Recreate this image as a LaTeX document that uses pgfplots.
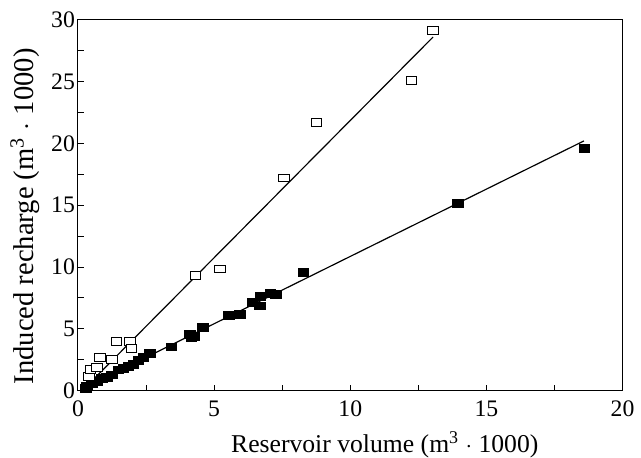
\documentclass[border=0pt]{standalone}
\usepackage{fontspec}
\setmainfont{Liberation Serif}
\usepackage{pgfplots}
\pgfplotsset{compat=1.18}

% filled squares
\pgfplotstableread{
x y
0.28 0.16
0.34 0.34
0.52 0.61
0.70 0.74
0.88 0.96
1.07 1.06
1.25 1.28
1.49 1.68
1.67 1.81
1.85 1.94
2.04 2.13
2.22 2.47
2.40 2.66
2.64 3.00
3.43 3.54
4.10 4.55
4.16 4.33
4.28 4.40
4.58 5.13
5.55 6.12
5.95 6.20
6.40 7.13
6.68 6.86
6.70 7.60
7.07 7.88
7.28 7.80
8.28 9.60
13.95 15.16
18.60 19.60
}\filled

% open squares
\pgfplotstableread{
x y
0.40 1.14
0.46 1.75
0.70 1.86
0.82 2.66
1.25 2.53
1.41 4.00
1.91 4.00
1.97 3.40
4.32 9.34
5.21 9.84
7.57 17.20
8.76 21.70
12.25 25.10
13.04 29.10
}\open

\begin{document}
\begin{tikzpicture}
\begin{axis}[
    scale only axis,
    width=276pt, height=188pt,
    xmin=0, xmax=20, ymin=0, ymax=30,
    xtick={0,5,10,15,20}, ytick={0,5,10,15,20,25,30},
    minor tick num=1,
    tick pos=left, tick align=inside,
    major tick length=3pt, minor tick length=3pt,
    axis line style={line width=0.5pt},
    tick style={line width=0.5pt, black},
    every tick label/.style={font=\fontsize{12}{14}\selectfont},
    xticklabel style={yshift=-1.5pt},
    yticklabel style={xshift=2pt},
    /pgf/number format/assume math mode=true,
    xlabel={Reservoir volume (m\textsuperscript{3} $\cdot$ 1000)},
    ylabel={Induced recharge (m\textsuperscript{3} $\cdot$ 1000)},
    xlabel style={font=\fontsize{13}{15}\selectfont, inner sep=0pt,
        at={(axis description cs:0.5634,-0.146)}, anchor=center},
    ylabel style={font=\fontsize{14.5}{16}\selectfont, inner sep=0pt,
        at={(axis description cs:-0.125,0.47)}, anchor=north},
    clip=false,
]
% fit lines
\addplot[black, line width=0.6pt] coordinates {(0.30,0.32) (13.04,28.60)};
\addplot[black, line width=0.6pt] coordinates {(0.10,0.08) (18.58,20.20)};
\addplot[only marks, mark=square*, mark size=2pt, mark options={xscale=1.35, black, fill=black}] table {\filled};
\addplot[only marks, mark=square*, mark size=2pt, mark options={xscale=1.35, draw=black, fill=white, line width=0.5pt}] table {\open};
\end{axis}
\path ([xshift=-39.5pt,yshift=-32.5pt]current axis.south west) rectangle ([xshift=5pt,yshift=10pt]current axis.north east);
\end{tikzpicture}
\end{document}
